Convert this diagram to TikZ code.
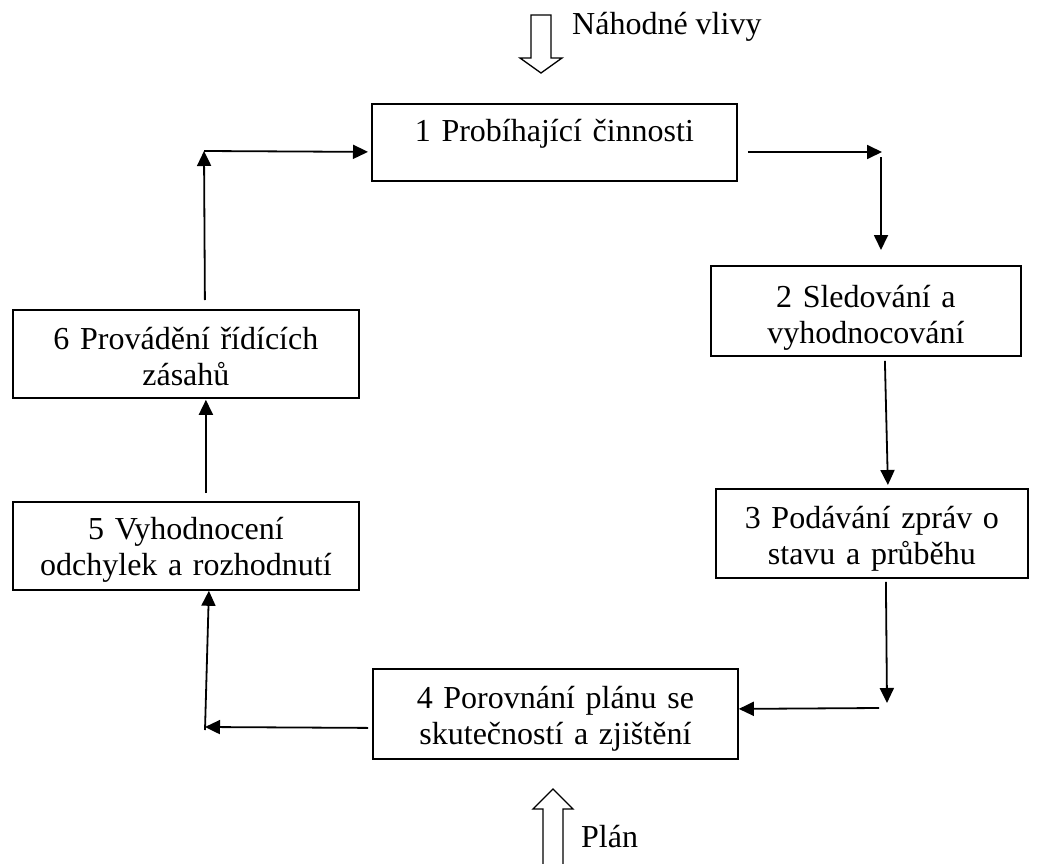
\documentclass[tikz,border=0pt]{standalone}
\usepackage{fontspec}
\setmainfont{Liberation Serif}
\usetikzlibrary{arrows.meta,calc}
\begin{document}
\begin{tikzpicture}[x=1pt,y=-1pt,
  box/.style={draw, line width=1.8pt, inner sep=0pt, anchor=north west},
  txt/.style={align=center, inner sep=0pt, anchor=base,
    font=\fontsize{32}{36}\selectfont},
  lbl/.style={inner sep=0pt, anchor=base west,
    font=\fontsize{32}{36}\selectfont},
  arr/.style={line width=1.8pt, -{Triangle[length=15pt,width=14pt]}},
  hollow/.style={draw, line width=1.3pt, line join=miter}]
\useasboundingbox (0,0) rectangle (1049,864);

% process boxes
\node[box, minimum width=365pt, minimum height=77pt] (b1) at (371,103) {};
\node[box, minimum width=310pt, minimum height=90pt] (b2) at (710,265) {};
\node[box, minimum width=312pt, minimum height=89pt] (b3) at (715,488) {};
\node[box, minimum width=365pt, minimum height=90pt] (b4) at (372,668) {};
\node[box, minimum width=346pt, minimum height=88pt] (b5) at (12,501) {};
\node[box, minimum width=346pt, minimum height=88pt] (b6) at (12,309) {};

% box texts
\node[txt, text width=365pt] (t1) at ($(b1.north)+(0,39)$) {1 Probíhající činnosti};
\node[txt, text width=310pt] (t2) at ($(b2.north)+(0,42)$) {2 Sledování a\\vyhodnocování};
\node[txt, text width=312pt] (t3) at ($(b3.north)+(0,40)$) {3 Podávání zpráv o\\stavu a průběhu};
\node[txt, text width=365pt] (t4) at ($(b4.north)+(0,40)$) {4 Porovnání plánu se\\skutečností a zjištění};
\node[txt, text width=346pt] (t5) at ($(b5.north)+(0,38)$) {5 Vyhodnocení\\odchylek a rozhodnutí};
\node[txt, text width=346pt] (t6) at ($(b6.north)+(0,40)$) {6 Provádění řídících\\zásahů};

% corner points of the cycle
\coordinate (q1) at (882,152);
\coordinate (q2) at (881,157);
\coordinate (q4) at (887,703);
\coordinate (q5) at (879,708);
\coordinate (q6) at (205,727);
\coordinate (p1) at (204,151);

% cycle connectors
\draw[arr] ($(b1.east |- q1)+(10,0)$) -- (q1);
\draw[arr] (q2) -- ($(b2.north -| q2)+(0,-15)$);
\draw[arr] ($(b2.south)+(19,4)$) -- ($(b3.north)+(16,-3)$);
\draw[arr] ($(b3.south)+(14,3)$) -- (q4);
\draw[arr] (q5) -- ($(b4.east)+(0,-5)$);
\draw[arr] ($(b4.west)+(-4,14)$) -- (q6);
\draw[arr] ($(q6)+(0,3)$) -- ($(b5.south)+(23,0)$);
\draw[arr] ($(b5.north)+(20,-8)$) -- ($(b6.south)+(20,1)$);
\draw[arr] ($(b6.north)+(19,-9)$) -- (p1);
\draw[arr] (p1) -- ($(b1.west)+(-3,9.5)$);

% outside influences
\draw[hollow] (531,15) -- (551,15) -- (551,58) -- (562,58) -- (541,73)
  -- (520,58) -- (531,58) -- cycle;
\node[lbl] (rand) at (572,35) {Náhodné vlivy};

\draw[hollow] (543,866) -- (543,809) -- (533,809) -- (553,789) -- (573,809)
  -- (563,809) -- (563,866);
\node[lbl] (plan) at (581,847) {Plán};
\end{tikzpicture}
\end{document}
